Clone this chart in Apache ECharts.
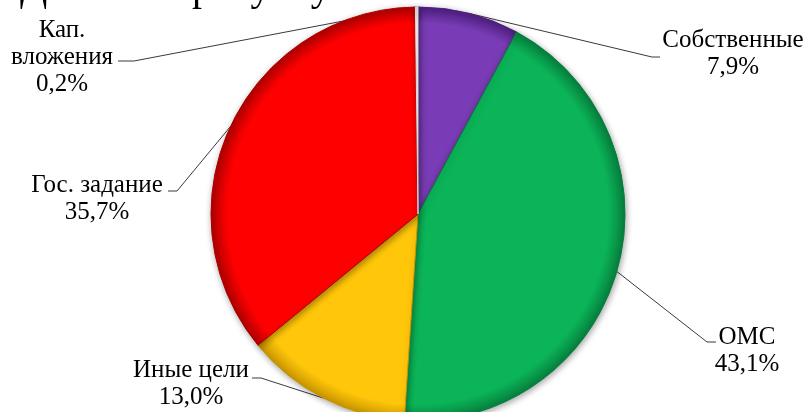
<!DOCTYPE html>
<html>
<head>
<meta charset="utf-8">
<script src="https://cdn.jsdelivr.net/npm/echarts@6/dist/echarts.min.js"></script>
<style>
  html, body { margin: 0; padding: 0; background: #ffffff; }
  #chart { width: 808px; height: 412px; }
  #fontprime { position: absolute; left: 0; top: 0; opacity: 0; font-family: 'Liberation Serif'; font-size: 25px; pointer-events: none; }
</style>
</head>
<body>
<div id="fontprime">Собственные 7,9% Данные к рисунку</div>
<div id="chart"></div>
<script>
// ---- data ----
const categories = ['Собственные', 'ОМС', 'Иные цели', 'Гос. задание', 'Кап. вложения'];
const labelNames = ['Собственные', 'ОМС', 'Иные цели', 'Гос. задание', 'Кап.\nвложения'];
const shares = [7.9, 43.1, 13.0, 35.7, 0.2];
const headerText = 'Данные к рисунку';

// ---- styles ----
const SERIF = 'Liberation Serif';
const baseColors = ['#7A3CB6', '#0BB458', '#FFC60A', '#FF0000', '#FFFFFF'];
const rimColors  = ['#4E1F80', '#06803E', '#C99600', '#B00000', '#D8D8D8'];
const CX = 418, CY = 214, R = 207;

// label block centres and line elbows/ends (layout styling)
const labelSpots = [
  { x: 733, y: 54,  elbow: [652, 57],  end: [660, 57] },
  { x: 747, y: 351, elbow: [707, 342], end: [716, 342] },
  { x: 191, y: 384, elbow: [261, 378], end: [252, 378] },
  { x: 97,  y: 199, elbow: [177, 191], end: [168, 191] },
  { x: 62,  y: 57,  elbow: [134, 61],  end: [118, 61] }
];

function fmt(v) { return v.toFixed(1).replace('.', ',') + '%'; }

function draw() {
  const data = categories.map((c, i) => ({
    name: c,
    value: shares[i],
    itemStyle: {
      color: {
        type: 'radial', x: CX, y: CY, r: R, global: true,
        colorStops: [
          { offset: 0, color: baseColors[i] },
          { offset: 0.92, color: baseColors[i] },
          { offset: 1, color: rimColors[i] }
        ]
      },
      borderColor: rimColors[i],
      borderWidth: 1
    }
  }));

  const chart = echarts.init(document.getElementById('chart'));
  chart.setOption({
    animation: false,
    backgroundColor: '#ffffff',
    textStyle: { fontFamily: SERIF },
    graphic: [{
      type: 'text', x: 20, y: -31,
      style: { text: headerText, fontFamily: SERIF, fontSize: 40, fill: '#000000' }
    }],
    series: [{
      type: 'pie',
      center: [CX, CY],
      radius: R,
      startAngle: 90,
      clockwise: true,
      avoidLabelOverlap: false,
      emphasis: { disabled: true },
      itemStyle: {
        shadowBlur: 6,
        shadowColor: 'rgba(0,0,0,0.35)',
        shadowOffsetX: 1,
        shadowOffsetY: 2
      },
      label: {
        show: true,
        position: 'outside',
        formatter: p => labelNames[p.dataIndex] + '\n' + fmt(p.value),
        fontFamily: SERIF,
        fontSize: 25,
        lineHeight: 27,
        color: '#000000',
        align: 'center'
      },
      labelLine: {
        show: true,
        length: 20,
        length2: 10,
        lineStyle: { color: '#3a3a3a', width: 1 }
      },
      labelLayout: function (params) {
        const s = labelSpots[params.dataIndex];
        const start = params.labelLinePoints ? params.labelLinePoints[0] : [CX, CY];
        return {
          x: s.x, y: s.y, align: 'center', verticalAlign: 'middle',
          labelLinePoints: [start, s.elbow, s.end]
        };
      },
      data: data
    }]
  });
}

if (document.fonts && document.fonts.load) {
  document.fonts.load('25px "Liberation Serif"', 'Собственные').then(draw, draw);
} else {
  draw();
}
</script>
</body>
</html>
